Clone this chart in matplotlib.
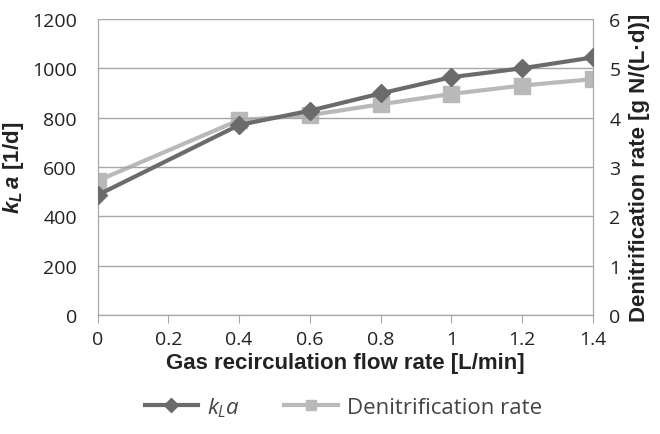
import matplotlib
matplotlib.use("Agg")
import matplotlib.pyplot as plt

plt.rcParams["font.family"] = ["Open Sans", "DejaVu Sans"]
plt.rcParams["mathtext.fontset"] = "custom"
plt.rcParams["mathtext.rm"] = "Liberation Sans:bold"
plt.rcParams["mathtext.it"] = "Open Sans:italic"
plt.rcParams["mathtext.bf"] = "Liberation Sans:bold"
plt.rcParams["mathtext.bfit"] = "Liberation Sans:bold:italic"

# data
flow = [0, 0.4, 0.6, 0.8, 1.0, 1.2, 1.4]
kla = [486, 770, 828, 898, 964, 1000, 1044]
denit = [2.72, 3.95, 4.05, 4.27, 4.48, 4.65, 4.78]

dark = "#6b6b6b"
light = "#b9b9b9"
grid_c = "#a6a6a6"
tick_fs = 14
label_fs = 16

fig = plt.figure(figsize=(6.6, 4.35), dpi=100)
ax = fig.add_axes([0.148, 0.274, 0.75, 0.68])
ax2 = ax.twinx()

ax.plot(flow, kla, color=dark, lw=3, marker="D", ms=9, label=r"$\mathit{k_La}$", zorder=3)
ax2.plot(flow, denit, color=light, lw=3, marker="s", ms=11, label="Denitrification rate", zorder=2)

ax.set_xlim(0, 1.4)
ax.set_ylim(0, 1200)
ax2.set_ylim(0, 6)
ax.set_xticks([0, 0.2, 0.4, 0.6, 0.8, 1.0, 1.2, 1.4])
ax.set_xticklabels(["0", "0.2", "0.4", "0.6", "0.8", "1", "1.2", "1.4"])
ax.set_yticks(range(0, 1201, 200))
ax2.set_yticks(range(0, 7))

ax.grid(axis="y", color=grid_c, lw=1)
ax.set_axisbelow(True)
ax.set_zorder(ax2.get_zorder() + 1)
ax.patch.set_visible(False)

for a in (ax, ax2):
    for s in a.spines.values():
        s.set_color(grid_c)
    a.tick_params(labelsize=tick_fs, colors="#222222", length=0)
ax.spines["top"].set_visible(False)
ax2.spines["top"].set_visible(False)
ax.tick_params(axis="x", length=6, color=grid_c, pad=5)
ax.tick_params(axis="y", pad=15)
ax2.tick_params(axis="y", pad=12)

ax.set_xlabel("Gas recirculation flow rate [L/min]", fontsize=label_fs,
              fontweight="bold", family="Liberation Sans", color="#222222", labelpad=3)
ax.set_ylabel(r"$\mathbfit{k_L\,a}$ [1/d]", fontsize=label_fs,
              fontweight="bold", family="Liberation Sans", color="#222222", labelpad=4)
ax2.set_ylabel("Denitrification rate [g N/(L·d)]", fontsize=label_fs,
               fontweight="bold", family="Liberation Sans", color="#222222", labelpad=6)

h1, l1 = ax.get_legend_handles_labels()
h2, l2 = ax2.get_legend_handles_labels()
leg = fig.legend(h1 + h2, l1 + l2, loc="center", bbox_to_anchor=(0.52, 0.062), ncol=2,
                 frameon=False, fontsize=16, handlelength=2.4, columnspacing=2.0,
                 handletextpad=0.4, labelcolor="#444444")
for h in leg.legend_handles:
    h.set_markersize(7)

fig.savefig("out.png", dpi=100)
